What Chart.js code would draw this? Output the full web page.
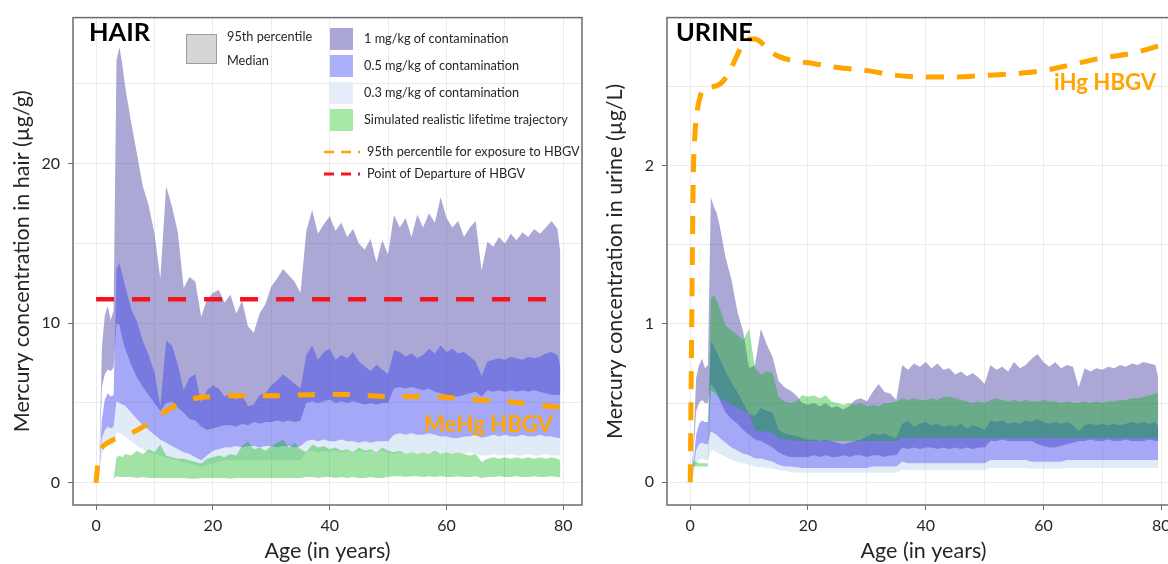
<!DOCTYPE html>
<html lang="en">
<head>
<meta charset="UTF-8">
<title>Mercury in hair and urine</title>
<script src="https://cdn.jsdelivr.net/npm/chart.js"></script>
<style>
  html, body { margin: 0; padding: 0; overflow: hidden; background: #fff; }
  body { width: 1168px; height: 564px; position: relative; }
  .panel { position: absolute; top: 0; height: 564px; }
  #hairPanel { left: 0; width: 590px; }
  #urinePanel { left: 590px; width: 598px; }
</style>
</head>
<body>
<div class="panel" id="hairPanel"><canvas id="hairChart" width="590" height="564"></canvas></div>
<div class="panel" id="urinePanel"><canvas id="urineChart" width="598" height="564"></canvas></div>

<script>
// ages (years) shared by all the bands
const ages = [0, 0.5, 1, 1.5, 2, 2.5, 3, 3.5, 4, 4.5, 5,
  6, 7, 8, 9, 10, 11, 12, 13, 14, 15,
  16, 17, 18, 19, 20, 21, 22, 23, 24, 25,
  26, 27, 28, 29, 30, 31, 32, 33, 34, 35,
  36, 37, 38, 39, 40, 41, 42, 43, 44, 45,
  46, 47, 48, 49, 50, 51, 52, 53, 54, 55,
  56, 57, 58, 59, 60, 61, 62, 63, 64, 65,
  66, 67, 68, 69, 70, 71, 72, 73, 74, 75,
  76, 77, 78, 79, 79.5];

const xTicks = [0, 10, 20, 30, 40, 50, 60, 70, 80];
const xLabels = [0, 20, 40, 60, 80];

// ---- HAIR (µg/g) ----
const hairP95_1 = [0, 0.5, 8.5, 10.5, 11.1, 10.2, 10.8, 26.5, 27.3, 26.2, 24.8,
  22.6, 20.6, 18.6, 17.4, 15.6, 12.8, 18.6, 17.3, 15.7, 12.2,
  12.9, 12.6, 10.4, 11.5, 11.9, 12.1, 11.3, 11.8, 10.6, 11.4,
  9.8, 9.4, 10.6, 11.2, 12.3, 12.8, 13.4, 13.0, 12.6, 11.9,
  15.8, 17.1, 15.6, 16.2, 16.7, 15.8, 16.3, 15.4, 15.9, 15.0,
  14.6, 15.3, 13.8, 15.2, 14.3, 16.8, 16.0, 16.6, 15.4, 16.8,
  16.0, 16.9, 16.3, 17.9, 16.6, 16.0, 16.4, 15.4, 16.0, 16.4,
  13.3, 15.1, 14.8, 15.4, 15.0, 15.6, 15.2, 15.7, 15.4, 15.9,
  15.6, 16.0, 16.4, 15.9, 14.4];
const hairMed_1 = [0, 0.5, 6.0, 6.8, 7.1, 7.0, 7.2, 10.0, 9.9, 9.0, 8.4,
  7.4, 6.6, 6.0, 5.5, 5.0, 4.5, 5.0, 5.1, 4.7, 4.4,
  4.0, 3.9, 3.5, 3.3, 3.4, 3.5, 3.6, 3.6, 3.5, 3.7,
  3.6, 3.8, 3.7, 3.8, 3.8, 3.9, 3.8, 3.9, 3.8, 3.9,
  5.0, 5.1, 5.0, 5.1, 5.2, 5.0, 5.1, 5.0, 5.1, 5.0,
  4.9, 5.0, 4.9, 5.0, 5.0, 5.9, 6.0, 5.9, 6.0, 5.9,
  5.8, 5.9, 5.7, 5.6, 5.5, 5.4, 5.4, 5.5, 5.6, 5.7,
  5.4, 5.8, 5.7, 5.8, 5.7, 5.8, 5.7, 5.8, 5.7, 5.8,
  5.7, 5.6, 5.5, 5.5, 5.5];
const hairP95_05 = [0, 0.6, 4.0, 5.2, 5.6, 5.4, 5.5, 13.4, 13.8, 13.0, 12.3,
  10.9, 10.1, 8.9, 8.0, 6.9, 4.8, 8.9, 8.6, 7.4, 5.8,
  6.6, 6.8, 5.0, 5.8, 6.1, 5.9, 5.4, 5.6, 5.2, 5.5,
  4.8, 4.9, 5.5, 5.6, 6.1, 6.4, 6.8, 6.5, 6.2, 5.9,
  8.0, 8.6, 7.7, 8.2, 8.4, 7.7, 8.0, 7.8, 8.2, 7.6,
  7.3, 7.0, 7.4, 7.1, 6.8, 8.3, 8.2, 7.9, 8.1, 7.8,
  8.0, 8.4, 8.1, 8.6, 8.2, 8.4, 8.1, 8.2, 7.9, 7.6,
  6.7, 7.6, 7.7, 7.8, 7.7, 7.9, 7.8, 7.7, 7.9, 7.8,
  7.9, 8.1, 8.2, 8.0, 7.3];
const hairMed_05 = [0, 0.5, 2.8, 3.3, 3.5, 3.4, 3.5, 5.1, 5.0, 4.9, 4.8,
  4.4, 4.0, 3.6, 3.3, 3.0, 2.7, 2.5, 2.3, 2.1, 1.9,
  1.8, 1.6, 1.4, 1.7, 2.0, 2.1, 2.2, 2.2, 2.3, 2.2,
  2.3, 2.3, 2.2, 2.3, 2.3, 2.2, 2.3, 2.3, 2.2, 2.3,
  2.6, 2.7, 2.6, 2.7, 2.6, 2.6, 2.7, 2.6, 2.6, 2.5,
  2.6, 2.5, 2.6, 2.6, 2.6, 3.0, 3.1, 3.0, 3.1, 3.0,
  3.0, 3.1, 3.0, 2.9, 2.9, 2.8, 2.8, 2.9, 2.9, 3.0,
  2.8, 2.9, 3.0, 2.9, 3.0, 2.9, 2.9, 3.0, 2.9, 2.9,
  3.0, 2.9, 2.9, 2.8, 2.8];
const hairMed_03 = [0, 0.4, 1.8, 2.2, 2.4, 2.3, 2.4, 3.2, 3.1, 3.0, 2.9,
  2.6, 2.3, 2.1, 1.9, 1.8, 1.7, 1.6, 1.5, 1.4, 1.3,
  1.2, 1.1, 1.0, 1.1, 1.2, 1.3, 1.4, 1.4, 1.4, 1.4,
  1.4, 1.4, 1.4, 1.4, 1.4, 1.4, 1.4, 1.4, 1.4, 1.4,
  1.9, 2.0, 1.9, 2.0, 1.9, 2.0, 1.9, 2.0, 1.9, 2.0,
  1.9, 2.0, 1.9, 2.0, 1.9, 1.8, 1.9, 1.8, 1.9, 1.8,
  1.9, 1.8, 1.9, 1.8, 1.9, 1.8, 1.9, 1.8, 1.9, 1.8,
  1.7, 1.7, 1.8, 1.7, 1.7, 1.8, 1.7, 1.7, 1.8, 1.7,
  1.7, 1.8, 1.7, 1.7, 1.7];
const hairRealTop = [0, 0, 0, 0, 0, 0, 0.25, 1.6, 1.7, 1.6, 1.8,
  1.7, 2.0, 1.8, 2.1, 1.9, 2.4, 1.7, 1.6, 1.5, 1.5,
  1.4, 1.3, 1.2, 1.5, 1.6, 1.7, 1.6, 1.8, 1.7, 2.3,
  2.6, 2.1, 2.2, 2.0, 2.3, 2.5, 2.7, 2.2, 2.5, 2.1,
  1.9, 2.4, 2.2, 2.3, 2.1, 2.2, 2.0, 2.1, 1.9, 2.2,
  2.0, 2.1, 1.9, 2.2, 2.0, 1.9, 2.0, 1.8, 1.9, 1.8,
  1.9, 1.8, 2.0, 1.8, 1.9, 1.8, 1.9, 1.8, 1.7, 1.8,
  1.3, 1.5, 1.6, 1.5, 1.6, 1.5, 1.6, 1.5, 1.6, 1.5,
  1.6, 1.5, 1.6, 1.5, 1.4];
const hairRealBottom = [0, 0, 0, 0, 0, 0, 0.25, 0.4, 0.35, 0.35, 0.35,
  0.35, 0.3, 0.35, 0.3, 0.3, 0.3, 0.3, 0.3, 0.3, 0.3,
  0.25, 0.25, 0.3, 0.3, 0.3, 0.3, 0.3, 0.25, 0.3, 0.3,
  0.3, 0.3, 0.3, 0.3, 0.3, 0.3, 0.3, 0.3, 0.3, 0.3,
  0.35, 0.35, 0.3, 0.35, 0.35, 0.3, 0.35, 0.3, 0.35, 0.3,
  0.3, 0.35, 0.3, 0.3, 0.35, 0.4, 0.4, 0.35, 0.4, 0.4,
  0.35, 0.4, 0.35, 0.4, 0.35, 0.35, 0.4, 0.35, 0.35, 0.4,
  0.3, 0.35, 0.35, 0.4, 0.35, 0.35, 0.4, 0.35, 0.35, 0.4,
  0.35, 0.35, 0.4, 0.35, 0.35];
const hairHbgvAges = [0, 0.3, 0.6, 1, 2, 3, 4, 6, 8, 10, 12, 14, 16, 18, 20, 22, 25, 30, 35, 40, 45, 50, 55, 60, 65, 70, 75, 80];
const hairHbgv = [0, 1.2, 1.9, 2.2, 2.5, 2.7, 2.8, 3.1, 3.5, 4.0, 4.5, 4.9, 5.2, 5.35, 5.4, 5.45, 5.45, 5.45, 5.5, 5.55, 5.5, 5.4, 5.4, 5.35, 5.2, 5.1, 4.9, 4.7];
const podAges = [0, 80];
const hairPod = [11.5, 11.5];
const hairYTicks = [0, 5, 10, 15, 20, 25];
const hairYLabels = [0, 10, 20];

// ---- URINE (µg/L) ----
const urineP95_1 = [0, 0.2, 0.66, 0.74, 0.78, 0.72, 0.74, 1.8, 1.74, 1.7, 1.62,
  1.42, 1.28, 1.08, 0.95, 0.72, 0.74, 0.97, 0.87, 0.79, 0.64,
  0.6, 0.58, 0.55, 0.5, 0.49, 0.5, 0.48, 0.5, 0.47, 0.48,
  0.46, 0.48, 0.52, 0.53, 0.51, 0.57, 0.62, 0.57, 0.56, 0.52,
  0.74, 0.71, 0.75, 0.73, 0.76, 0.72, 0.75, 0.71, 0.72, 0.68,
  0.70, 0.67, 0.69, 0.66, 0.62, 0.74, 0.71, 0.73, 0.70, 0.76,
  0.72, 0.74, 0.78, 0.81, 0.76, 0.73, 0.76, 0.72, 0.74, 0.73,
  0.6, 0.72, 0.70, 0.72, 0.71, 0.73, 0.72, 0.74, 0.73, 0.75,
  0.74, 0.76, 0.75, 0.74, 0.66];
const urineMed_1 = [0, 0.15, 0.45, 0.5, 0.52, 0.5, 0.5, 0.62, 0.6, 0.57, 0.52,
  0.44, 0.4, 0.37, 0.33, 0.3, 0.27, 0.26, 0.24, 0.22, 0.19,
  0.17, 0.16, 0.16, 0.16, 0.16, 0.17, 0.16, 0.17, 0.16, 0.16,
  0.17, 0.16, 0.17, 0.17, 0.16, 0.17, 0.17, 0.16, 0.17, 0.17,
  0.22, 0.21, 0.22, 0.21, 0.22, 0.22, 0.21, 0.22, 0.21, 0.22,
  0.21, 0.22, 0.21, 0.22, 0.22, 0.26, 0.26, 0.27, 0.26, 0.26,
  0.26, 0.26, 0.26, 0.24, 0.23, 0.22, 0.22, 0.23, 0.24, 0.25,
  0.26, 0.26, 0.27, 0.26, 0.26, 0.27, 0.26, 0.26, 0.27, 0.26,
  0.26, 0.26, 0.27, 0.26, 0.26];
const urineP95_05 = [0, 0.1, 0.3, 0.37, 0.39, 0.38, 0.38, 0.89, 0.86, 0.82, 0.78,
  0.7, 0.63, 0.57, 0.5, 0.43, 0.42, 0.47, 0.45, 0.44, 0.33,
  0.31, 0.3, 0.29, 0.28, 0.27, 0.27, 0.26, 0.27, 0.26, 0.25,
  0.24, 0.25, 0.26, 0.27, 0.29, 0.31, 0.3, 0.31, 0.29, 0.28,
  0.37, 0.39, 0.35, 0.37, 0.38, 0.36, 0.37, 0.35, 0.36, 0.35,
  0.37, 0.34, 0.36, 0.35, 0.33, 0.39, 0.38, 0.39, 0.37, 0.38,
  0.37, 0.39, 0.38, 0.4, 0.38, 0.37, 0.38, 0.37, 0.38, 0.36,
  0.32, 0.36, 0.37, 0.36, 0.37, 0.36, 0.37, 0.36, 0.37, 0.38,
  0.37, 0.38, 0.37, 0.38, 0.35];
const urineMed_05 = [0, 0.07, 0.2, 0.24, 0.25, 0.24, 0.24, 0.32, 0.31, 0.3, 0.28,
  0.25, 0.22, 0.2, 0.18, 0.17, 0.15, 0.15, 0.14, 0.13, 0.11,
  0.1, 0.1, 0.095, 0.09, 0.09, 0.09, 0.09, 0.09, 0.09, 0.09,
  0.09, 0.09, 0.09, 0.09, 0.09, 0.1, 0.1, 0.1, 0.1, 0.1,
  0.13, 0.12, 0.12, 0.12, 0.12, 0.12, 0.12, 0.12, 0.12, 0.12,
  0.12, 0.12, 0.12, 0.12, 0.12, 0.14, 0.14, 0.14, 0.14, 0.14,
  0.14, 0.14, 0.13, 0.13, 0.13, 0.13, 0.13, 0.13, 0.14, 0.14,
  0.14, 0.14, 0.14, 0.14, 0.14, 0.14, 0.14, 0.14, 0.14, 0.14,
  0.14, 0.14, 0.14, 0.14, 0.14];
const urineMed_03 = [0, 0.04, 0.12, 0.14, 0.15, 0.14, 0.14, 0.2, 0.2, 0.19, 0.18,
  0.16, 0.14, 0.13, 0.12, 0.11, 0.1, 0.095, 0.09, 0.085, 0.075,
  0.07, 0.065, 0.06, 0.06, 0.06, 0.06, 0.06, 0.06, 0.06, 0.06,
  0.06, 0.06, 0.06, 0.06, 0.06, 0.06, 0.06, 0.06, 0.06, 0.06,
  0.08, 0.075, 0.075, 0.075, 0.075, 0.075, 0.075, 0.075, 0.075, 0.075,
  0.075, 0.075, 0.075, 0.075, 0.075, 0.09, 0.09, 0.09, 0.09, 0.09,
  0.09, 0.09, 0.085, 0.085, 0.085, 0.085, 0.085, 0.085, 0.09, 0.09,
  0.09, 0.09, 0.09, 0.09, 0.09, 0.09, 0.09, 0.09, 0.09, 0.09,
  0.09, 0.09, 0.09, 0.09, 0.09];
const urineRealTop = [0, 0.14, 0.13, 0.12, 0.12, 0.12, 0.12, 1.16, 1.18, 1.15, 1.1,
  0.99, 0.96, 0.93, 0.9, 0.97, 0.72, 0.68, 0.7, 0.69, 0.54,
  0.51, 0.5, 0.51, 0.55, 0.54, 0.55, 0.53, 0.55, 0.51, 0.5,
  0.49, 0.5, 0.49, 0.5, 0.48, 0.49, 0.48, 0.5, 0.5, 0.51,
  0.53, 0.52, 0.53, 0.52, 0.52, 0.53, 0.52, 0.54, 0.54, 0.53,
  0.52, 0.51, 0.5, 0.51, 0.5, 0.52, 0.53, 0.52, 0.51, 0.52,
  0.51, 0.52, 0.51, 0.51, 0.52, 0.51, 0.51, 0.5, 0.51, 0.5,
  0.5, 0.51, 0.5, 0.51, 0.5, 0.51, 0.51, 0.52, 0.52, 0.53,
  0.53, 0.54, 0.55, 0.56, 0.56];
const urineRealBottom = [0, 0.1, 0.1, 0.1, 0.1, 0.1, 0.1, 0.58, 0.57, 0.55, 0.53,
  0.51, 0.49, 0.47, 0.45, 0.43, 0.33, 0.32, 0.32, 0.31, 0.28,
  0.27, 0.27, 0.26, 0.26, 0.26, 0.26, 0.26, 0.26, 0.26, 0.26,
  0.26, 0.26, 0.26, 0.26, 0.26, 0.26, 0.26, 0.26, 0.26, 0.26,
  0.28, 0.28, 0.28, 0.28, 0.28, 0.28, 0.28, 0.28, 0.28, 0.28,
  0.28, 0.28, 0.28, 0.28, 0.28, 0.28, 0.28, 0.28, 0.28, 0.28,
  0.28, 0.28, 0.28, 0.28, 0.28, 0.28, 0.28, 0.28, 0.28, 0.28,
  0.28, 0.28, 0.28, 0.28, 0.28, 0.28, 0.28, 0.28, 0.28, 0.28,
  0.28, 0.28, 0.28, 0.28, 0.28];
const urineHbgvAges = [0, 0.25, 0.5, 0.8, 1.2, 1.8, 2.5, 4, 5.5, 7, 8, 9, 10, 11, 12, 13, 15, 18, 20, 25, 30, 35, 40, 45, 50, 55, 60, 65, 70, 75, 80];
const urineHbgv = [0, 1.0, 1.9, 2.2, 2.35, 2.45, 2.49, 2.5, 2.53, 2.62, 2.7, 2.77, 2.8, 2.8, 2.78, 2.74, 2.69, 2.66, 2.65, 2.62, 2.6, 2.57, 2.56, 2.56, 2.57, 2.58, 2.6, 2.64, 2.68, 2.71, 2.76];
const urineYTicks = [0, 0.5, 1, 1.5, 2, 2.5];
const urineYLabels = [0, 1, 2];

// ---- styles ----
const FONT = 'Lato, "Open Sans", sans-serif';
const TEXT = '#262626';
const GRID = '#ebebeb';
const FRAME = '#6b6b6b';
const ORANGE = '#ffa500';
const RED = '#f5141e';
const PURPLE = 'rgba(88, 82, 172, 0.5)';
const BLUE = 'rgba(66, 74, 236, 0.48)';
const LIGHT = 'rgba(196, 216, 240, 0.5)';
const GREEN = 'rgba(0, 180, 10, 0.37)';

Chart.defaults.font.family = FONT;

function fitSize(text, width, weight) {
  const c = document.createElement('canvas').getContext('2d');
  c.font = (weight || 'normal') + ' 100px ' + FONT;
  return 100 * width / c.measureText(text).width;
}
const titleSize = fitSize('Age (in years)', 126);
const legendSize = fitSize('Simulated realistic lifetime trajectory', 204);
const panelSize = fitSize('HAIR', 61, 'bold');
const hbgvSize = fitSize('MeHg HBGV', 129, 'bold');

function pts(xs, ys) { return xs.map((x, i) => ({ x: x, y: ys[i] })); }
function edge(ys) {
  return { data: pts(ages, ys), borderWidth: 0, borderColor: 'rgba(0,0,0,0)', pointRadius: 0, fill: false };
}
function band(ys, target, color) {
  const d = edge(ys);
  d.fill = target;
  d.backgroundColor = color;
  return d;
}
function dashed(xs, ys, color, width, dash) {
  return { data: pts(xs, ys), borderColor: color, borderWidth: width, borderDash: dash,
    pointRadius: 0, fill: false, cubicInterpolationMode: 'monotone' };
}

const framePlugin = {
  id: 'frame',
  afterDatasetsDraw(chart) {
    const a = chart.chartArea, ctx = chart.ctx;
    ctx.save();
    ctx.strokeStyle = FRAME;
    ctx.lineWidth = 1.5;
    ctx.strokeRect(a.left, a.top, a.right - a.left, a.bottom - a.top);
    ctx.restore();
  }
};

const hairLabels = {
  id: 'hairLabels',
  afterDraw(chart) {
    const ctx = chart.ctx;
    ctx.save();
    ctx.textBaseline = 'alphabetic';
    ctx.fillStyle = '#000';
    ctx.font = 'bold ' + panelSize + 'px ' + FONT;
    ctx.fillText('HAIR', 89, 41);
    ctx.fillStyle = ORANGE;
    ctx.font = 'bold ' + hbgvSize + 'px ' + FONT;
    ctx.fillText('MeHg HBGV', 424, 432);

    // legend
    ctx.fillStyle = '#d6d6d6';
    ctx.fillRect(186, 34, 31, 30);
    ctx.strokeStyle = '#9e9e9e';
    ctx.lineWidth = 1;
    ctx.strokeRect(186.5, 34.5, 30, 29);
    const sw = [['#aaa7d6', '1 mg/kg of contamination'], ['#aab0fa', '0.5 mg/kg of contamination'],
      ['#e5edf8', '0.3 mg/kg of contamination'], ['#a6e8a6', 'Simulated realistic lifetime trajectory']];
    ctx.font = legendSize + 'px ' + FONT;
    ctx.textBaseline = 'middle';
    ctx.fillStyle = TEXT;
    ctx.fillText('95th percentile', 227, 37);
    ctx.fillText('Median', 227, 61);
    sw.forEach((s, i) => {
      ctx.fillStyle = s[0];
      ctx.fillRect(330, 28 + i * 27, 23, 22);
      ctx.fillStyle = TEXT;
      ctx.fillText(s[1], 364, 39 + i * 27);
    });
    [[ORANGE, 2.5, 152, '95th percentile for exposure to HBGV'], [RED, 3.2, 174, 'Point of Departure of HBGV']].forEach(l => {
      ctx.strokeStyle = l[0];
      ctx.lineWidth = l[1];
      ctx.setLineDash([10, 7]);
      ctx.beginPath();
      ctx.moveTo(324, l[2]);
      ctx.lineTo(360, l[2]);
      ctx.stroke();
      ctx.setLineDash([]);
      ctx.fillStyle = TEXT;
      ctx.fillText(l[3], 367, l[2]);
    });
    ctx.restore();
  }
};

const urineLabels = {
  id: 'urineLabels',
  afterDraw(chart) {
    const ctx = chart.ctx;
    ctx.save();
    ctx.textBaseline = 'alphabetic';
    ctx.fillStyle = '#000';
    ctx.font = 'bold ' + panelSize + 'px ' + FONT;
    ctx.fillText('URINE', 86, 41);
    ctx.fillStyle = ORANGE;
    ctx.font = 'bold ' + hbgvSize + 'px ' + FONT;
    ctx.fillText('iHg HBGV', 464, 90);
    ctx.restore();
  }
};

function makeChart(id, cfg) {
  return new Chart(document.getElementById(id), {
    type: 'line',
    data: { datasets: cfg.datasets },
    options: {
      responsive: false,
      animation: false,
      events: [],
      layout: { padding: { left: 0, right: 8, top: 13, bottom: 0 } },
      plugins: { legend: { display: false }, tooltip: { enabled: false } },
      elements: { line: { tension: 0 } },
      scales: {
        x: {
          type: 'linear', min: -3.95, max: 83.2,
          afterBuildTicks: s => { s.ticks = xTicks.map(v => ({ value: v })); },
          afterFit: s => { s.height = 59; },
          grid: { color: GRID, lineWidth: 1, tickLength: 5,
            tickColor: c => (c.tick && xLabels.includes(c.tick.value)) ? FRAME : 'rgba(0,0,0,0)' },
          border: { display: false },
          ticks: { autoSkip: false, maxRotation: 0, padding: 6, color: TEXT, font: { size: 16 },
            callback: v => xLabels.includes(v) ? String(v) : '' },
          title: { display: true, text: 'Age (in years)', color: TEXT, font: { size: titleSize },
            padding: { top: 0, bottom: 0 } }
        },
        y: {
          type: 'linear', min: cfg.yMin, max: cfg.yMax,
          afterBuildTicks: s => { s.ticks = cfg.yTicks.map(v => ({ value: v })); },
          afterFit: s => { s.width = cfg.yWidth; },
          grid: { color: GRID, lineWidth: 1, tickLength: 5,
            tickColor: c => (c.tick && cfg.yLabels.includes(c.tick.value)) ? FRAME : 'rgba(0,0,0,0)' },
          border: { display: false },
          ticks: { autoSkip: false, padding: 8, color: TEXT, font: { size: 16 },
            callback: v => cfg.yLabels.includes(v) ? String(v) : '' },
          title: { display: true, text: cfg.yTitle, color: TEXT, font: { size: titleSize },
            padding: { top: cfg.yTitlePad, bottom: 0 } }
        }
      }
    },
    plugins: [framePlugin, cfg.labels]
  });
}

makeChart('hairChart', {
  yMin: -1.4, yMax: 29.16, yWidth: 73, yTicks: hairYTicks, yLabels: hairYLabels,
  yTitle: 'Mercury concentration in hair (µg/g)', yTitlePad: 9, labels: hairLabels,
  datasets: [
    dashed(podAges, hairPod, RED, 4.5, [18, 18]),
    dashed(hairHbgvAges, hairHbgv, ORANGE, 5, [17, 18]),
    edge(hairRealBottom),
    band(hairRealTop, 2, GREEN),
    edge(hairMed_05),
    band(hairP95_05, 4, BLUE),
    edge(hairMed_1),
    band(hairP95_1, 6, PURPLE),
    band(hairMed_03, 4, LIGHT)
  ]
});

makeChart('urineChart', {
  yMin: -0.144, yMax: 2.935, yWidth: 77, yTicks: urineYTicks, yLabels: urineYLabels,
  yTitle: 'Mercury concentration in urine (µg/L)', yTitlePad: 12, labels: urineLabels,
  datasets: [
    dashed(urineHbgvAges, urineHbgv, ORANGE, 5, [18, 13]),
    edge(urineRealBottom),
    band(urineRealTop, 1, GREEN),
    edge(urineMed_05),
    band(urineP95_05, 3, BLUE),
    edge(urineMed_1),
    band(urineP95_1, 5, PURPLE),
    band(urineMed_03, 3, LIGHT)
  ]
});
</script>
</body>
</html>
